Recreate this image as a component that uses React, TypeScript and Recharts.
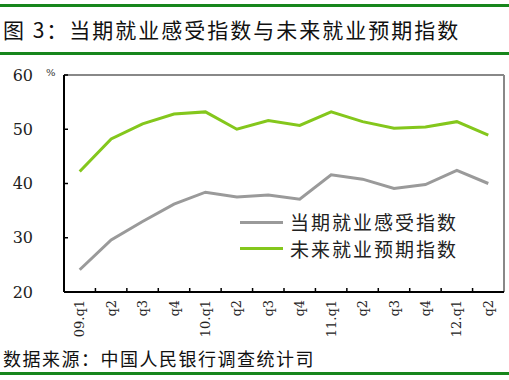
import React from "react";
import { ComposedChart, Line, XAxis, YAxis, Legend, CartesianGrid } from "recharts";

const categories = ["09.q1", "q2", "q3", "q4", "10.q1", "q2", "q3", "q4", "11.q1", "q2", "q3", "q4", "12.q1", "q2"];
const currentIndex = [24.1, 29.6, 33.0, 36.2, 38.4, 37.5, 37.9, 37.1, 41.6, 40.8, 39.1, 39.8, 42.4, 40.0];
const expectIndex = [42.2, 48.2, 51.0, 52.8, 53.2, 50.0, 51.6, 50.7, 53.2, 51.4, 50.2, 50.4, 51.4, 48.9];
const yTicks = [20, 30, 40, 50, 60];

const seriesNames = ["当期就业感受指数", "未来就业预期指数"];
const titleText = "图 3：当期就业感受指数与未来就业预期指数";
const sourceText = "数据来源：中国人民银行调查统计司";

const data = categories.map((c, i) => ({
  key: `${i}`,
  label: c,
  current: currentIndex[i],
  expect: expectIndex[i],
}));

const GREY = "#9a9a9a";
const GREEN = "#84c71c";
const BANNER = "#17861c";
const CJK = "'Noto Sans CJK SC', 'Noto Sans', sans-serif";
const SERIF = "'DejaVu Serif', serif";

const X_TICK_SIZE = 8;
const Y_TICK_SIZE = 31;

const XTick = (props: any) => {
  const { x, y, payload, index } = props;
  const axisY = y - X_TICK_SIZE;
  const half = typeof payload?.offset === "number" && payload.offset > 0 ? payload.offset : 15.75;
  const label = categories[Number(payload.value)] ?? payload.value;
  return (
    <g>
      {index < categories.length - 1 && (
        <line x1={x + half} x2={x + half} y1={axisY} y2={axisY - 4} stroke="#000" strokeWidth={1.5} />
      )}
      <text
        x={x}
        y={y}
        transform={`rotate(-90, ${x}, ${y})`}
        textAnchor="end"
        dominantBaseline="central"
        fontFamily={SERIF}
        fontSize={13}
        fill="#222"
      >
        {label}
      </text>
    </g>
  );
};

const YTick = (props: any) => {
  const { x, y, payload } = props;
  const axisX = x + Y_TICK_SIZE;
  return (
    <g>
      <line x1={axisX} x2={axisX + 4} y1={y} y2={y} stroke="#000" strokeWidth={1.5} />
      <text x={x} y={y} textAnchor="end" dominantBaseline="central" fontFamily={SERIF} fontSize={16} fill="#222">
        {payload.value}
      </text>
    </g>
  );
};

const LegendContent = (props: any) => {
  const { payload } = props;
  return (
    <div style={{ display: "flex", flexDirection: "column" }}>
      {(payload || []).map((p: any, i: number) => (
        <div key={i} style={{ display: "flex", alignItems: "center", height: 26.5 }}>
          <div style={{ width: 43, height: 3, background: p.color, marginRight: 7 }} />
          <span style={{ fontFamily: CJK, fontSize: 19, letterSpacing: 2, color: "#222", lineHeight: "20px" }}>
            {p.value}
          </span>
        </div>
      ))}
    </div>
  );
};

export default function App() {
  return (
    <div style={{ position: "absolute", left: 0, top: 0, width: 509, height: 380, background: "#fff", overflow: "hidden" }}>
      <div style={{ position: "absolute", left: 0, top: 4, width: 509, height: 3, background: BANNER }} />
      <div
        style={{
          position: "absolute",
          left: 3,
          top: 15,
          fontFamily: CJK,
          fontSize: 21,
          letterSpacing: 2,
          color: "#111",
          lineHeight: "28px",
          whiteSpace: "nowrap",
        }}
      >
        {titleText}
      </div>
      <div style={{ position: "absolute", left: 0, top: 52, width: 509, height: 3, background: BANNER }} />
      <div
        style={{
          position: "absolute",
          left: 46,
          top: 67,
          fontFamily: SERIF,
          fontSize: 10,
          color: "#333",
        }}
      >
        %
      </div>
      <div style={{ position: "absolute", left: 0, top: 0 }}>
        <ComposedChart width={509} height={380} data={data} margin={{ top: 75, right: 5, bottom: 0, left: 0 }}>
          <CartesianGrid
            stroke="#888"
            strokeWidth={2}
            horizontalCoordinatesGenerator={(p: any) => [p.offset.top]}
            verticalCoordinatesGenerator={(p: any) => [p.offset.left + p.offset.width]}
          />
          <XAxis
            dataKey="key"
            xAxisId="main"
            scale="band"
            height={88}
            interval={0}
            axisLine={{ stroke: "#000", strokeWidth: 2 }}
            tickLine={false}
            tickSize={X_TICK_SIZE}
            tickMargin={0}
            tick={<XTick />}
          />
          <YAxis
            yAxisId="left"
            domain={[20, 60]}
            ticks={yTicks}
            width={64}
            axisLine={{ stroke: "#000", strokeWidth: 2 }}
            tickLine={false}
            tickSize={Y_TICK_SIZE}
            tickMargin={0}
            tick={<YTick />}
          />
          <Legend
            layout="vertical"
            align="center"
            verticalAlign="middle"
            content={<LegendContent />}
            wrapperStyle={{ position: "absolute", left: 240, top: 209, width: 240 }}
          />
          <Line
            xAxisId="main"
            yAxisId="left"
            type="linear"
            dataKey="current"
            name={seriesNames[0]}
            stroke={GREY}
            strokeWidth={3}
            dot={false}
            isAnimationActive={false}
          />
          <Line
            xAxisId="main"
            yAxisId="left"
            type="linear"
            dataKey="expect"
            name={seriesNames[1]}
            stroke={GREEN}
            strokeWidth={3}
            dot={false}
            isAnimationActive={false}
          />
        </ComposedChart>
      </div>
      <div
        style={{
          position: "absolute",
          left: 3,
          top: 345,
          fontFamily: CJK,
          fontSize: 18,
          letterSpacing: 1.5,
          color: "#111",
          lineHeight: "26px",
          whiteSpace: "nowrap",
        }}
      >
        {sourceText}
      </div>
      <div style={{ position: "absolute", left: 0, top: 372, width: 509, height: 3, background: BANNER }} />
    </div>
  );
}
